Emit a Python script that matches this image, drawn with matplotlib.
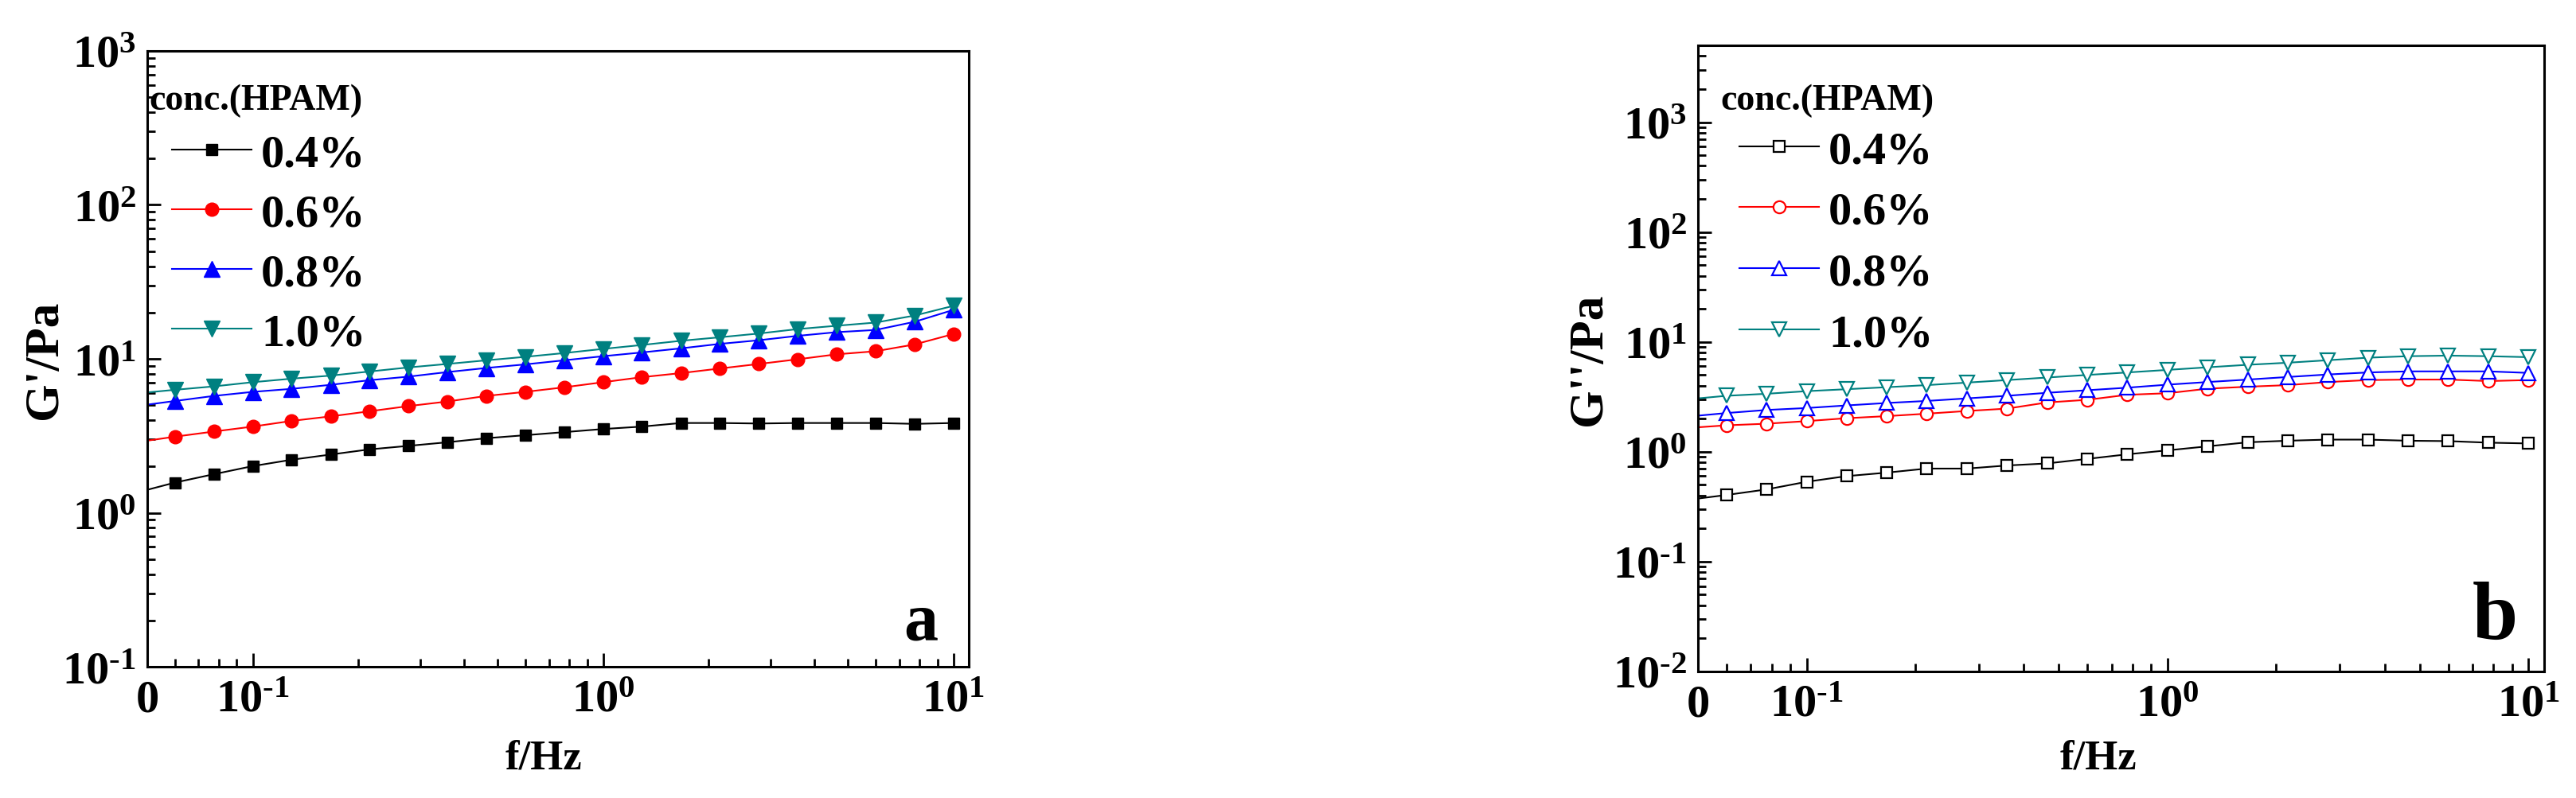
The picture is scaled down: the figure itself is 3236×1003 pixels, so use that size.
import matplotlib
matplotlib.use("Agg")
import matplotlib.pyplot as plt
from matplotlib.ticker import FixedLocator, FixedFormatter, LogLocator, NullFormatter

plt.rcParams['font.family'] = 'Liberation Serif'
plt.rcParams['font.weight'] = 'bold'
plt.rcParams['mathtext.fontset'] = 'custom'
plt.rcParams['mathtext.rm'] = 'Liberation Serif:bold'
plt.rcParams['mathtext.bf'] = 'Liberation Serif:bold'
plt.rcParams['mathtext.it'] = 'Liberation Serif:bold'

# frequency (Hz); first value is the left edge where the curves start
freq = [0.05, 0.0599, 0.0774, 0.1, 0.129, 0.167, 0.215, 0.278, 0.359, 0.464, 0.599,
        0.774, 1.0, 1.29, 1.67, 2.15, 2.78, 3.59, 4.64, 5.99, 7.74, 10.0]

conc_labels = ["0.4%", "0.6%", "0.8%", "1.0%"]
colores = ["black", "red", "blue", "#008080"]

# G' (Pa)
g1_04 = [1.41, 1.57, 1.78, 2.01, 2.21, 2.39, 2.58, 2.72, 2.87, 3.05, 3.19,
         3.34, 3.50, 3.63, 3.83, 3.83, 3.80, 3.83, 3.83, 3.83, 3.78, 3.83]
g1_06 = [2.94, 3.12, 3.37, 3.63, 3.95, 4.23, 4.56, 4.93, 5.28, 5.74, 6.10,
         6.53, 7.05, 7.60, 8.08, 8.65, 9.26, 9.93, 10.7, 11.2, 12.4, 14.5]
g1_08 = [5.04, 5.32, 5.74, 6.10, 6.38, 6.78, 7.26, 7.66, 8.20, 8.72, 9.20,
         9.78, 10.4, 11.0, 11.7, 12.5, 13.2, 14.1, 14.9, 15.4, 17.4, 20.8]
g1_10 = [6.05, 6.29, 6.62, 7.05, 7.43, 7.78, 8.27, 8.79, 9.26, 9.78, 10.3,
         10.9, 11.6, 12.3, 13.1, 13.8, 14.6, 15.6, 16.4, 17.2, 19.1, 22.1]

# G'' (Pa)
g2_04 = [0.375, 0.404, 0.454, 0.533, 0.600, 0.646, 0.703, 0.703, 0.750, 0.783, 0.861,
         0.948, 1.03, 1.12, 1.22, 1.26, 1.29, 1.29, 1.26, 1.25, 1.21, 1.19]
g2_06 = [1.67, 1.74, 1.80, 1.90, 2.02, 2.11, 2.22, 2.35, 2.47, 2.81, 2.97,
         3.30, 3.41, 3.75, 3.91, 4.04, 4.31, 4.49, 4.54, 4.54, 4.40, 4.49]
g2_08 = [2.13, 2.25, 2.40, 2.50, 2.64, 2.78, 2.90, 3.06, 3.23, 3.44, 3.63,
         3.83, 4.08, 4.31, 4.54, 4.79, 5.05, 5.27, 5.39, 5.39, 5.39, 5.22]
g2_10 = [3.06, 3.23, 3.37, 3.56, 3.71, 3.87, 4.04, 4.26, 4.49, 4.74, 5.00,
         5.27, 5.56, 5.87, 6.19, 6.46, 6.81, 7.18, 7.41, 7.50, 7.41, 7.26]

HY = "\u2010"  # hyphen instead of minus sign, like the original
x_ticks = [0.05, 0.1, 1, 10]
x_ticklabels = ["0", "$10^{%s1}$" % HY, "$10^{0}$", "$10^{1}$"]


def etiqueta_log(v, pos):
    import math
    e = int(round(math.log10(v)))
    s = ("%s%d" % (HY, -e)) if e < 0 else str(e)
    return "$10^{%s}$" % s


fig = plt.figure(figsize=(32.36, 10.04), dpi=100)
ax1 = fig.add_axes([0.05717, 0.16434, 0.31891, 0.77092])
ax2 = fig.add_axes([0.65915, 0.15837, 0.32849, 0.78386])


def estilo(ax, ylim):
    ax.set_xscale("log")
    ax.set_yscale("log")
    ax.set_xlim(0.05, 11.05)
    ax.set_ylim(*ylim)
    ax.xaxis.set_major_locator(FixedLocator(x_ticks))
    ax.xaxis.set_major_formatter(FixedFormatter(x_ticklabels))
    ax.xaxis.set_minor_locator(LogLocator(base=10, subs=range(2, 10), numticks=20))
    ax.xaxis.set_minor_formatter(NullFormatter())
    ax.yaxis.set_major_locator(LogLocator(base=10, numticks=20))
    ax.yaxis.set_major_formatter(plt.FuncFormatter(etiqueta_log))
    ax.yaxis.set_minor_locator(LogLocator(base=10, subs=range(2, 10), numticks=20))
    ax.yaxis.set_minor_formatter(NullFormatter())
    ax.tick_params(which="both", direction="in", top=False, right=False, width=2)
    ax.tick_params(which="major", length=12, labelsize=42)
    ax.tick_params(axis="x", which="major", pad=11)
    ax.tick_params(axis="y", which="major", pad=10)
    ax.tick_params(which="minor", length=7)
    for s in ax.spines.values():
        s.set_linewidth(2.2)


estilo(ax1, (0.1, 1000))
estilo(ax2, (0.01, 5000))

# panel a: filled markers
marcas_a = ["s", "o", "^", "v"]
tam_a = [10.5, 12, 14, 14]
for ys, c, m, ms, lab in zip([g1_04, g1_06, g1_08, g1_10], colores, marcas_a, tam_a, conc_labels):
    ax1.plot(freq, ys, color=c, lw=1.5, marker=m, ms=ms, mfc=c, mec=c,
             markevery=slice(1, None), label=lab)

# panel b: open markers
marcas_b = ["s", "o", "^", "v"]
tam_b = [10, 11, 13, 13]
for ys, c, m, ms, lab in zip([g2_04, g2_06, g2_08, g2_10], colores, marcas_b, tam_b, conc_labels):
    ax2.plot(freq, ys, color=c, lw=1.5, marker=m, ms=ms, mfc="white", mec=c, mew=1.6,
             markevery=slice(1, None), label=lab)

for ax, xl, xt, yt, yl, sp in [(ax1, 0.030, 0.002, 0.905, 0.866, 0.38),
                               (ax2, 0.049, 0.027, 0.898, 0.865, 0.41)]:
    leg = ax.legend(loc="upper left", bbox_to_anchor=(xl, yl), frameon=False,
                    fontsize=42, handlelength=1.72, handletextpad=0.2,
                    labelspacing=sp, borderaxespad=0, borderpad=0)
    ax.text(xt, yt, "conc.(HPAM)", transform=ax.transAxes, fontsize=33,
            fontweight="bold", ha="left", va="baseline")

ax1.text(0.962, 0.044, "a", transform=ax1.transAxes, fontsize=62,
         fontweight="bold", ha="right", va="baseline")
ax2.text(0.969, 0.053, "b", transform=ax2.transAxes, fontsize=74,
         fontweight="bold", ha="right", va="baseline")

ax1.set_ylabel("G'/Pa", fontsize=44, fontweight="bold")
ax2.set_ylabel("G''/Pa", fontsize=44, fontweight="bold")
ax1.yaxis.set_label_coords(-0.098, 0.5)
ax2.yaxis.set_label_coords(-0.1025, 0.5)

ax1.set_xlabel("f/Hz", fontsize=38, fontweight="bold")
ax2.set_xlabel("f/Hz", fontsize=38, fontweight="bold")
ax1.xaxis.set_label_coords(0.4826, -0.117)
ax2.xaxis.set_label_coords(0.473, -0.107)

fig.savefig("out.png", dpi=100)
